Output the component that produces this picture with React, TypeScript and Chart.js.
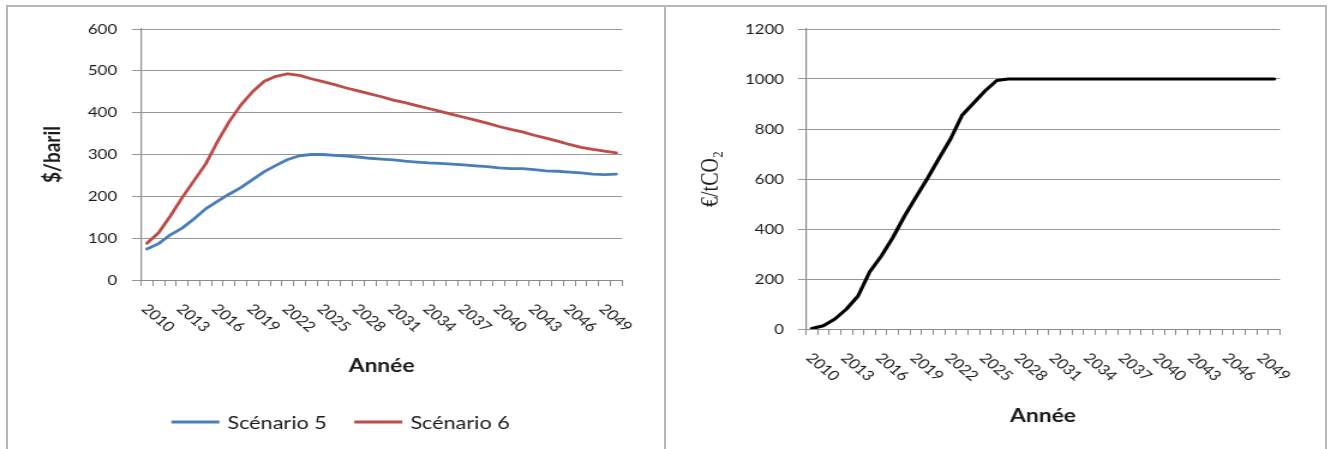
import React, { useEffect, useRef } from 'react';
import { Chart, registerables } from 'chart.js';

Chart.register(...registerables);

// ---------- data ----------
const YEARS = [
  '2010', '2011', '2012', '2013', '2014', '2015', '2016', '2017', '2018', '2019',
  '2020', '2021', '2022', '2023', '2024', '2025', '2026', '2027', '2028', '2029',
  '2030', '2031', '2032', '2033', '2034', '2035', '2036', '2037', '2038', '2039',
  '2040', '2041', '2042', '2043', '2044', '2045', '2046', '2047', '2048', '2049',
  '2050',
];

const X_TICK_LABELS = [
  '2010', '2013', '2016', '2019', '2022', '2025', '2028',
  '2031', '2034', '2037', '2040', '2043', '2046', '2049',
];

const SERIES_NAMES = ['Scénario 5', 'Scénario 6'];

const SCENARIO_5 = [
  74, 87, 108, 124, 146, 170, 188, 205, 221, 240,
  259, 274, 288, 297, 300, 300, 298, 296, 294, 291,
  289, 287, 284, 282, 280, 279, 277, 275, 273, 271,
  268, 266, 266, 264, 261, 260, 258, 256, 253, 252,
  253,
];

const SCENARIO_6 = [
  88, 113, 153, 197, 237, 277, 330, 378, 418, 450,
  475, 487, 493, 489, 481, 474, 467, 459, 452, 445,
  438, 430, 424, 417, 410, 403, 396, 389, 382, 375,
  367, 360, 354, 346, 339, 332, 324, 317, 312, 308,
  304,
];

const CO2_PRICE = [
  2, 13, 40, 80, 132, 228, 291, 365, 450, 527,
  602, 682, 760, 855, 904, 953, 994, 1000, 1000, 1000,
  1000, 1000, 1000, 1000, 1000, 1000, 1000, 1000, 1000, 1000,
  1000, 1000, 1000, 1000, 1000, 1000, 1000, 1000, 1000, 1000,
  1000,
];

const OIL_Y_MAX = 600;
const OIL_Y_STEP = 100;
const CO2_Y_MAX = 1200;
const CO2_Y_STEP = 200;

const OIL_Y_TITLE = '$/baril';
const CO2_Y_TITLE = '€/tCO₂';
const X_TITLE = 'Année';

// ---------- styles ----------
const STRETCH = 1.2; // the reference is horizontally stretched
const BLUE = '#4a7ebb';
const RED = '#be4b48';
const BLACK = '#000000';
const GRID = '#979797';
const AXIS = '#8a8a8a';
const TEXT = '#1a1a1a';
const FONT = 'Lato';

const rotatedXLabels = {
  id: 'rotatedXLabels',
  afterDraw(chart: any) {
    const xs = chart.scales.x;
    const ctx = chart.ctx;
    ctx.save();
    ctx.font = `14px ${FONT}`;
    ctx.fillStyle = TEXT;
    ctx.textAlign = 'left';
    ctx.textBaseline = 'middle';
    (chart.data.labels as string[]).forEach((lab, i) => {
      if (!X_TICK_LABELS.includes(lab)) return;
      const px = xs.getPixelForValue(i);
      ctx.save();
      ctx.translate(px - 2.3, xs.top + 26.5);
      ctx.rotate(Math.PI / 4);
      ctx.fillText(lab, 0, 0);
      ctx.restore();
    });
    ctx.restore();
  },
};

const lineLegend = {
  id: 'lineLegend',
  afterDraw(chart: any, _args: any, opts: any) {
    if (!opts || !opts.display) return;
    const ctx = chart.ctx;
    ctx.save();
    ctx.font = `${opts.fontSize}px ${FONT}`;
    ctx.textBaseline = 'middle';
    ctx.textAlign = 'left';
    const items = chart.data.datasets.map((d: any) => ({
      text: d.label,
      color: d.borderColor,
      w: opts.lineLen + opts.gap + ctx.measureText(d.label).width,
    }));
    const total = items.reduce((a: number, it: any) => a + it.w, 0) + opts.itemGap * (items.length - 1);
    let x = opts.centerX - total / 2;
    const y = opts.y;
    items.forEach((it: any) => {
      ctx.strokeStyle = it.color;
      ctx.lineWidth = 3;
      ctx.lineCap = 'butt';
      ctx.beginPath();
      ctx.moveTo(x, y);
      ctx.lineTo(x + opts.lineLen, y);
      ctx.stroke();
      ctx.fillStyle = TEXT;
      ctx.fillText(it.text, x + opts.lineLen + opts.gap, y + 1);
      x += it.w + opts.itemGap;
    });
    ctx.restore();
  },
};

function yScale(max: number, step: number, title: string, titleFont: any, titlePad: number, tickLen: number, tickPad: number) {
  return {
    min: 0,
    max,
    ticks: {
      stepSize: step,
      padding: tickPad,
      color: TEXT,
      font: { family: FONT, size: 14 },
      callback: (v: any) => String(v),
    },
    grid: { color: GRID, lineWidth: 1, tickLength: tickLen, drawTicks: true },
    border: { color: AXIS, width: 1.2 },
    title: { display: true, text: title, font: titleFont, color: TEXT, padding: { top: titlePad, bottom: 0 } },
    afterFit: (s: any) => { s.width = 117.5; },
  };
}

function xScale(height: number, titlePadBottom: number) {
  return {
    type: 'category',
    offset: true,
    grid: { offset: true, drawOnChartArea: false, drawTicks: true, tickLength: 6, color: AXIS },
    border: { color: AXIS, width: 1 },
    ticks: { display: false, autoSkip: false },
    title: {
      display: true,
      text: X_TITLE,
      font: { family: FONT, size: 19, weight: 'bold' },
      color: TEXT,
      padding: { top: 0, bottom: titlePadBottom },
    },
    afterFit: (s: any) => { s.height = height; },
  };
}

export default function App() {
  const oilRef = useRef<HTMLCanvasElement | null>(null);
  const co2Ref = useRef<HTMLCanvasElement | null>(null);

  useEffect(() => {
    const oil = new Chart(oilRef.current as HTMLCanvasElement, {
      type: 'line',
      data: {
        labels: YEARS,
        datasets: [
          { label: SERIES_NAMES[0], data: SCENARIO_5, borderColor: BLUE, backgroundColor: BLUE, borderWidth: 2.8, pointRadius: 0, borderJoinStyle: 'round', borderCapStyle: 'round' },
          { label: SERIES_NAMES[1], data: SCENARIO_6, borderColor: RED, backgroundColor: RED, borderWidth: 2.8, pointRadius: 0, borderJoinStyle: 'round', borderCapStyle: 'round' },
        ],
      },
      options: {
        responsive: false,
        animation: false,
        devicePixelRatio: 1,
        layout: { padding: { left: 0, right: 35.7, top: 29, bottom: 45 } },
        plugins: {
          legend: { display: false },
          tooltip: { enabled: false },
          lineLegend: { display: true, centerX: 283.7, y: 422, lineLen: 40, gap: 6.7, itemGap: 23, fontSize: 18 },
        } as any,
        scales: {
          x: xScale(124, 26.6) as any,
          y: yScale(OIL_Y_MAX, OIL_Y_STEP, OIL_Y_TITLE, { family: FONT, size: 19, weight: 'bold' }, 32.8, 7.5, 12.5) as any,
        },
      },
      plugins: [rotatedXLabels, lineLegend],
    });

    const co2 = new Chart(co2Ref.current as HTMLCanvasElement, {
      type: 'line',
      data: {
        labels: YEARS,
        datasets: [
          { label: 'CO2', data: CO2_PRICE, borderColor: BLACK, backgroundColor: BLACK, borderWidth: 3.2, pointRadius: 0, borderJoinStyle: 'round', borderCapStyle: 'round' },
        ],
      },
      options: {
        responsive: false,
        animation: false,
        devicePixelRatio: 1,
        layout: { padding: { left: 0, right: 37.5, top: 29, bottom: 0 } },
        plugins: {
          legend: { display: false },
          tooltip: { enabled: false },
        },
        scales: {
          x: xScale(120, 22.1) as any,
          y: yScale(CO2_Y_MAX, CO2_Y_STEP, CO2_Y_TITLE, { family: 'Liberation Serif', size: 20, weight: 'normal' }, 27, 6.7, 11.6) as any,
        },
      },
      plugins: [rotatedXLabels],
    });

    return () => {
      oil.destroy();
      co2.destroy();
    };
  }, []);

  const frame = '#b8b8b8';
  return (
    <div style={{ position: 'absolute', left: 0, top: 0, width: 1330, height: 449, overflow: 'hidden', background: '#fff' }}>
      <canvas
        ref={oilRef}
        width={554}
        height={449}
        style={{ position: 'absolute', left: 0, top: 0, width: `${554 * STRETCH}px`, height: '449px' }}
      />
      <canvas
        ref={co2Ref}
        width={550}
        height={449}
        style={{ position: 'absolute', left: 665, top: 0, width: `${550 * STRETCH}px`, height: '449px' }}
      />
      <div style={{ position: 'absolute', left: 6, top: 5, width: 1321, height: 2, background: frame }} />
      <div style={{ position: 'absolute', left: 6, top: 5, width: 2, height: 460, background: frame }} />
      <div style={{ position: 'absolute', left: 664, top: 5, width: 2, height: 460, background: frame }} />
      <div style={{ position: 'absolute', left: 1325, top: 5, width: 2, height: 460, background: frame }} />
    </div>
  );
}
